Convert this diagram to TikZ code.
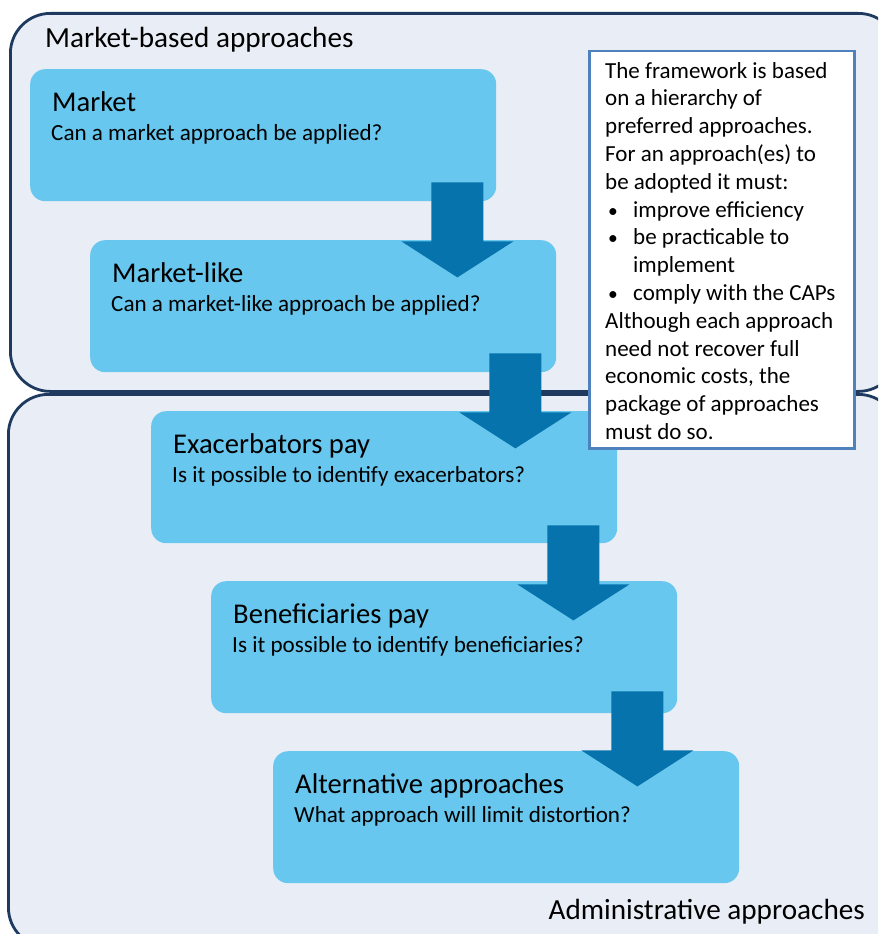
\documentclass[tikz,border=0pt]{standalone}
\usepackage{fontspec}
\setmainfont{Carlito}
\usetikzlibrary{calc}
\definecolor{contfill}{HTML}{E9EEF6}
\definecolor{contline}{HTML}{1F3A5F}
\definecolor{boxfill}{HTML}{67C7EE}
\definecolor{arrowc}{HTML}{0673AC}
\definecolor{noteline}{HTML}{4F81BD}
\newcommand\bul{\makebox[28pt][l]{\hspace{3pt}\scalebox{0.85}{\textbullet}}}
\begin{document}
\begin{tikzpicture}[x=1pt,y=-1pt,
  container/.style={draw=contline, line width=2.8pt, fill=contfill, rounded corners=40pt, anchor=north west, inner sep=0pt},
  stepbox/.style={fill=boxfill, rounded corners=15pt, anchor=north west, minimum width=466pt, minimum height=132pt, inner sep=0pt},
  titletxt/.style={font=\fontsize{28.6}{32}\selectfont, anchor=base west, inner sep=0pt},
  subtxt/.style={font=\fontsize{23.1}{27}\selectfont, anchor=base west, inner sep=0pt},
  grouptxt/.style={font=\fontsize{29.2}{33}\selectfont, inner sep=0pt},
  notebox/.style={draw=noteline, line width=2.5pt, fill=white, anchor=north west, minimum width=265pt, minimum height=397pt, inner sep=0pt},
  notetxt/.style={font=\fontsize{23}{27.8}\selectfont, anchor=base west, inner sep=0pt},
  flowarrow/.pic={\fill[arrowc] (-26,0) -- (26,0) -- (26,59) -- (56,59) -- (0,95) -- (-56,59) -- (-26,59) -- cycle;}
]
\useasboundingbox (0,0) rectangle (878,934);
\clip (0,0) rectangle (878,934);
\fill[white] (0,0) rectangle (878,934);
% group containers
\node[container, minimum width=888pt, minimum height=378pt] (mkt) at (9,12) {};
\node[container, minimum width=890pt, minimum height=553pt] (adm) at (7,393) {};
\node[grouptxt, anchor=base west] (mktlabel) at (45,48) {Market-based approaches};
\node[grouptxt, anchor=base east] (admlabel) at (865,919) {Administrative approaches};
% step boxes
\node[stepbox] (b1) at (30,69) {};
\node[stepbox] (b2) at (90,240) {};
\node[stepbox] (b3) at (151,411) {};
\node[stepbox] (b4) at (211,581) {};
\node[stepbox] (b5) at (273,751) {};
\node[titletxt] (t1) at ($(b1.north west)+(22,42)$) {Market};
\node[subtxt] (s1) at ($(b1.north west)+(21,71)$) {Can a market approach be applied?};
\node[titletxt] (t2) at ($(b2.north west)+(22,42)$) {Market-like};
\node[subtxt] (s2) at ($(b2.north west)+(21,71)$) {Can a market-like approach be applied?};
\node[titletxt] (t3) at ($(b3.north west)+(22,42)$) {Exacerbators pay};
\node[subtxt] (s3) at ($(b3.north west)+(21,71)$) {Is it possible to identify exacerbators?};
\node[titletxt] (t4) at ($(b4.north west)+(22,42)$) {Beneficiaries pay};
\node[subtxt] (s4) at ($(b4.north west)+(21,71)$) {Is it possible to identify beneficiaries?};
\node[titletxt] (t5) at ($(b5.north west)+(22,42)$) {Alternative approaches};
\node[subtxt] (s5) at ($(b5.north west)+(21,71)$) {What approach will limit distortion?};
% arrows between steps
\pic at ($(b1.south east)+(-39,-19)$) {flowarrow};
\pic at ($(b2.south east)+(-41,-19)$) {flowarrow};
\pic at ($(b3.south east)+(-44,-18)$) {flowarrow};
\pic at ($(b4.south east)+(-40,-22)$) {flowarrow};
% note
\node[notebox] (note) at (588,50) {};
\foreach \t [count=\i from 0] in {{The framework is based},{on a hierarchy of},{preferred approaches.},{For an approach(es) to},{be adopted it must:},{\bul improve efficiency},{\bul be practicable to},{\hspace*{28pt}implement},{\bul comply with the CAPs},{Although each approach},{need not recover full},{economic costs, the},{package of approaches},{must do so.}}
  \node[notetxt] (n\i) at ($(note.north west)+(17,28+27.8*\i)$) {\t};
\end{tikzpicture}
\end{document}
